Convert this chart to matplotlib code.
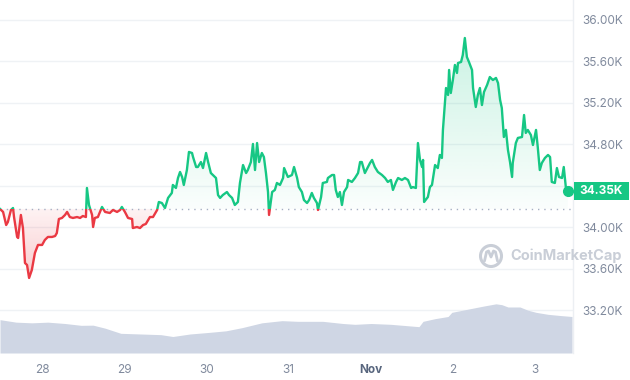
import matplotlib
matplotlib.use("Agg")
import matplotlib.pyplot as plt
import numpy as np
import pandas as pd
from matplotlib.patches import Rectangle, PathPatch, Ellipse
from matplotlib.path import Path
from matplotlib.lines import Line2D
from matplotlib.colors import to_rgb

# ---------------- data ----------------
start = pd.Timestamp("2023-10-27 11:44")

hours = [0.0, 0.9, 1.8, 2.3, 3.2, 3.8, 4.1, 5.0, 5.3, 6.1, 6.7, 7.3, 7.9, 8.5, 9.3, 10.2, 11.1, 12.3, 13.1, 14.0,
         15.2, 16.1, 16.6, 17.2, 18.1, 19.0, 19.6, 20.4, 21.3, 22.5, 23.4, 24.2, 25.1, 25.4, 26.0, 26.9, 27.2, 27.7,
         28.6, 29.8, 30.7, 32.1, 33.0, 34.2, 35.1, 35.6, 36.5, 37.4, 38.6, 38.8, 40.0, 40.9, 41.8, 42.6, 43.8, 44.7,
         45.9, 46.4, 47.3, 48.2, 49.1, 50.2, 50.5, 51.4, 52.0, 52.6, 53.2, 53.7, 54.6, 55.2, 56.1, 56.4, 57.3, 57.8,
         58.7, 59.3, 60.2, 60.8, 61.6, 62.2, 63.1, 63.7, 64.3, 65.1, 66.3, 66.9, 67.8, 68.6, 69.5, 70.1, 71.0, 71.9,
         72.4, 73.3, 73.9, 74.5, 75.1, 75.7, 76.5, 77.1, 77.7, 78.3, 78.6, 79.5, 80.3, 80.9, 81.8, 82.7, 83.0, 84.1,
         85.3, 85.9, 86.8, 87.3, 88.2, 88.8, 89.7, 90.3, 91.1, 91.7, 92.6, 92.9, 93.8, 94.3, 95.5, 95.8, 97.0, 97.6,
         98.1, 98.7, 99.3, 99.9, 100.5, 101.4, 101.7, 102.8, 103.7, 104.6, 105.2, 105.7, 106.6, 107.5, 108.1, 108.7,
         109.5, 110.4, 111.6, 112.5, 113.3, 114.2, 114.8, 115.7, 116.3, 117.4, 118.3, 119.2, 120.1, 120.6, 121.5,
         122.1, 122.7, 123.3, 123.6, 123.9, 125.0, 125.6, 126.2, 127.1, 127.9, 128.5, 129.1, 129.4, 130.3, 130.9,
         131.2, 131.7, 132.3, 132.9, 133.5, 133.8, 134.7, 135.2, 135.8, 136.4, 137.0, 137.9, 138.2, 139.0, 139.6,
         140.2, 140.8, 141.4, 142.3, 143.1, 144.0, 144.9, 145.5, 146.1, 146.6, 147.2, 147.8, 148.4, 149.0, 149.6,
         149.8, 150.7, 151.3, 152.5, 153.1, 153.6, 154.2, 155.1, 155.7, 156.6, 157.1, 157.7, 158.3, 159.2, 160.1,
         160.7, 161.2, 162.1, 162.7, 163.3, 164.2, 164.7, 165.3, 165.9]

price = [34.175, 34.146, 34.020, 34.049, 34.165, 34.184, 34.097, 33.905, 33.895, 34.117, 33.991, 33.654, 33.635,
         33.510, 33.587, 33.751, 33.828, 33.828, 33.876, 33.905, 33.905, 33.914, 33.943, 34.078, 34.088, 34.117,
         34.146, 34.097, 34.088, 34.097, 34.088, 34.107, 34.097, 34.377, 34.213, 34.117, 34.001, 34.088, 34.097,
         34.194, 34.146, 34.136, 34.165, 34.146, 34.165, 34.194, 34.146, 34.088, 34.078, 33.991, 34.001, 33.991,
         34.020, 34.030, 34.097, 34.097, 34.165, 34.242, 34.232, 34.184, 34.281, 34.329, 34.406, 34.377, 34.473,
         34.531, 34.483, 34.406, 34.550, 34.724, 34.714, 34.675, 34.579, 34.579, 34.627, 34.569, 34.714, 34.627,
         34.521, 34.502, 34.473, 34.309, 34.281, 34.309, 34.338, 34.309, 34.281, 34.213, 34.242, 34.425, 34.598,
         34.521, 34.550, 34.627, 34.801, 34.550, 34.810, 34.627, 34.714, 34.675, 34.521, 34.338, 34.117, 34.338,
         34.358, 34.425, 34.406, 34.473, 34.569, 34.483, 34.502, 34.579, 34.473, 34.386, 34.338, 34.261, 34.232,
         34.261, 34.329, 34.281, 34.232, 34.165, 34.290, 34.425, 34.435, 34.473, 34.502, 34.502, 34.358, 34.290,
         34.338, 34.213, 34.338, 34.386, 34.454, 34.435, 34.473, 34.521, 34.627, 34.627, 34.521, 34.579, 34.618,
         34.647, 34.579, 34.531, 34.502, 34.473, 34.435, 34.454, 34.358, 34.435, 34.473, 34.454, 34.473, 34.454,
         34.377, 34.386, 34.377, 34.810, 34.647, 34.579, 34.647, 34.242, 34.290, 34.386, 34.406, 34.598, 34.569,
         34.695, 34.666, 34.936, 35.340, 35.273, 35.514, 35.292, 35.417, 35.562, 35.485, 35.581, 35.591, 35.658,
         35.822, 35.639, 35.591, 35.514, 35.340, 35.157, 35.273, 35.340, 35.176, 35.302, 35.369, 35.446, 35.417,
         35.437, 35.388, 35.225, 35.148, 34.868, 34.936, 34.743, 34.627, 34.483, 34.618, 34.810, 34.859, 34.868,
         35.080, 34.907, 34.936, 34.887, 34.791, 34.936, 34.772, 34.550, 34.618, 34.666, 34.695, 34.675, 34.435,
         34.425, 34.569, 34.483, 34.473, 34.579, 34.386, 34.348]

vol_hours = [0.0, 4.7, 9.3, 14.0, 19.0, 23.7, 27.2, 30.7, 35.3, 41.2, 47.0, 50.5, 55.5, 61.3, 66.0, 70.7, 76.5,
             82.4, 87.0, 94.3, 100.2, 103.7, 108.4, 114.2, 117.7, 122.4, 123.6, 127.1, 130.9, 132.0, 136.7, 141.4,
             144.9, 146.6, 148.4, 151.9, 154.2, 156.6, 160.1, 163.6, 167.1]
volume = [20.0, 18.5, 18.1, 18.5, 17.7, 16.6, 16.7, 14.9, 11.8, 11.4, 11.0, 9.9, 11.4, 12.4, 13.3, 15.2, 18.1,
          19.4, 19.0, 19.0, 17.7, 17.2, 17.7, 17.2, 16.6, 15.8, 19.0, 20.6, 21.9, 24.4, 26.3, 28.2, 29.5, 29.0,
          27.6, 27.6, 25.7, 24.4, 23.2, 22.5, 21.9]

ytick_vals = [33.2, 33.6, 34.0, 34.4, 34.8, 35.2, 35.6, 36.0]
ytick_labels = ["33.20K", "33.60K", "34.00K", "34.40K", "34.80K", "35.20K", "35.60K", "36.00K"]
xtick_dates = ["2023-10-28", "2023-10-29", "2023-10-30", "2023-10-31", "2023-11-01", "2023-11-02", "2023-11-03"]
xtick_labels = ["28", "29", "30", "31", "Nov", "2", "3"]

# ---------------- style ----------------
GREEN = "#16c784"
RED = "#ea3943"
GRID = "#eff2f5"
TXT = "#808a9d"
plt.rcParams["font.family"] = ["Inter", "DejaVu Sans"]

t = np.array(hours)
p = np.array(price)
base = p[0]
XMAX = 167.4
YLIM = (32.787, 36.188)

fig = plt.figure(figsize=(6.3, 3.8), dpi=100)
fig.patch.set_facecolor("white")
rect = [0, 27 / 380, 573 / 630, 353 / 380]
ax = fig.add_axes(rect)
ax.set_facecolor("none")

# grid
for v in ytick_vals:
    ax.axhline(v, color=GRID, lw=1, zorder=0)

# gradient fills
def grad_fill(where, y0, y1, a0, a1, color):
    poly = ax.fill_between(t, p, base, where=where, interpolate=True,
                           facecolor="none", edgecolor="none")
    cp = Path.make_compound_path(*poly.get_paths())
    patch = PathPatch(cp, transform=ax.transData, facecolor="none", edgecolor="none")
    ax.add_patch(patch)
    img = np.zeros((256, 1, 4))
    img[..., :3] = to_rgb(color)
    img[..., 3] = np.linspace(a0, a1, 256)[:, None]
    im = ax.imshow(img, extent=(t[0], t[-1], y0, y1), origin="lower",
                   aspect="auto", zorder=1, interpolation="bilinear")
    im.set_clip_path(patch)

grad_fill(p >= base, base, p.max(), 0.02, 0.22, GREEN)
grad_fill(p <= base, p.min(), base, 0.26, 0.06, RED)

# baseline (dotted)
ax.axhline(base, color="#a6b0c3", lw=1, ls=(0, (1, 3.5)), zorder=2)

# price line colored above / below baseline
up = Rectangle((-10, base), 1000, 100, transform=ax.transData)
dn = Rectangle((-10, base - 100), 1000, 100, transform=ax.transData)
lg, = ax.plot(t, p, color=GREEN, lw=1.7, zorder=3, solid_joinstyle="round")
lg.set_clip_path(up)
lr, = ax.plot(t, p, color=RED, lw=1.7, zorder=3, solid_joinstyle="round")
lr.set_clip_path(dn)
ax.plot(t[-1], p[-1], "o", color=GREEN, ms=7, zorder=4, clip_on=False)

ax.set_xlim(0, XMAX)
ax.set_ylim(*YLIM)

# axes styling
for s in ["left", "top", "bottom"]:
    ax.spines[s].set_visible(False)
ax.spines["right"].set_color("#eceff3")
ax.spines["right"].set_linewidth(1)
ax.yaxis.tick_right()
ax.set_yticks(ytick_vals)
ax.set_yticklabels(ytick_labels)
ax.tick_params(axis="y", length=0, pad=7, labelsize=8.5, labelcolor=TXT)
xpos = [(pd.Timestamp(d) - start) / pd.Timedelta(hours=1) for d in xtick_dates]
ax.set_xticks(xpos)
ax.set_xticklabels(xtick_labels)
ax.tick_params(axis="x", length=0, pad=8, labelsize=8.5, labelcolor=TXT)
for lbl in ax.get_xticklabels():
    if lbl.get_text() == "Nov":
        lbl.set_fontweight("bold")
        lbl.set_color("#58667e")

# the current-price badge covers the tick label closest to the last price
ylabels = ax.get_yticklabels()
closest = int(np.argmin([abs(v - p[-1]) for v in ytick_vals]))
ylabels[closest].set_visible(False)

# volume on its own overlay axes
axv = fig.add_axes(rect, zorder=0.5)
axv.set_facecolor("none")
axv.fill_between(vol_hours, volume, 0, color="#cfd6e4", lw=0)
axv.set_xlim(0, XMAX)
axv.set_ylim(0, 211.8)
axv.axis("off")

# watermark
wm = "#c9ced7"
fig.text(566 / 630, 1 - 256 / 380, "CoinMarketCap", ha="center", va="center",
         fontsize=10.5, fontweight="bold", color=wm, zorder=0)
fig.add_artist(Ellipse((491 / 630, 1 - 256 / 380), 21 / 630, 21 / 380, transform=fig.transFigure,
                       fill=False, ec=wm, lw=2.2, zorder=0))
fig.add_artist(Line2D(np.array([484.5, 486.5, 488.5, 491, 493.5, 495.5, 497.5]) / 630,
                      1 - np.array([261, 252, 251, 257, 251, 252, 261]) / 380,
                      transform=fig.transFigure, color=wm, lw=2.0, solid_capstyle="round",
                      solid_joinstyle="round", zorder=0))

# current price badge
fig.add_artist(Rectangle((574 / 630, 1 - 200 / 380), 55 / 630, 18 / 380, transform=fig.transFigure,
                         facecolor=GREEN, edgecolor="none", zorder=10))
fig.text(601.5 / 630, 1 - 191 / 380, f"{p[-1]:.2f}K", ha="center", va="center",
         fontsize=8.5, fontweight="bold", color="white", zorder=11)

fig.savefig("out.png", dpi=100, facecolor="white")
